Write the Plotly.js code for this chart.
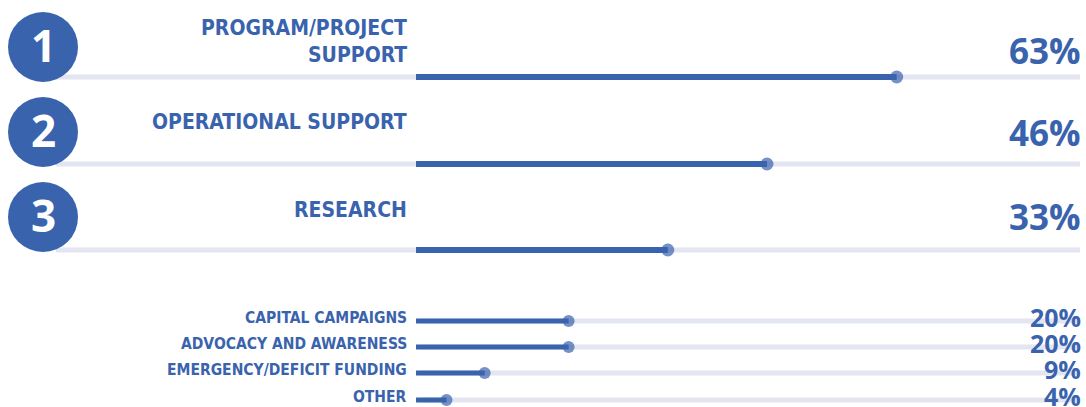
<!DOCTYPE html>
<html>
<head>
<meta charset="utf-8">
<script src="https://cdn.plot.ly/plotly-3.0.1.min.js"></script>
<style>html,body{margin:0;padding:0;background:#fff;}#chart{width:1086px;height:407px;}</style>
</head>
<body>
<div id="chart"></div>
<script>
// ---- data ----
const topCategories = ["PROGRAM/PROJECT<br>SUPPORT", "OPERATIONAL SUPPORT", "RESEARCH"];
const topValues = [63, 46, 33];
const topRanks = ["1", "2", "3"];
const otherCategories = ["CAPITAL CAMPAIGNS", "ADVOCACY AND AWARENESS", "EMERGENCY/DEFICIT FUNDING", "OTHER"];
const otherValues = [20, 20, 9, 4];

// ---- layout constants ----
const W = 1086, H = 407;
const BLUE = "#3a63ad", TRACK = "#e3e5f2";
const LABEL_FONT = "'Liberation Sans Narrow', 'DejaVu Sans Condensed', 'Arial Narrow', sans-serif";
const NUM_FONT = "'Open Sans', 'Noto Sans', sans-serif";
const topRowY = [77, 164, 250];
const topLabelY = [41, 122, 210];
const topPctY = [50, 132, 216];
const circleY = [47, 132, 217];
const otherRowY = [321, 347, 373, 400];
const px = p => p / W;

const traces = [];
const shapes = [];
const annotations = [];

topCategories.forEach((cat, i) => {
  const y = topRowY[i];
  shapes.push({type: "line", xref: "paper", yref: "y", x0: px(56), x1: px(1080), y0: y, y1: y,
    line: {color: TRACK, width: 5}, layer: "below"});
  shapes.push({type: "circle", xref: "paper", yref: "y", x0: px(8), x1: px(78), y0: circleY[i] - 35, y1: circleY[i] + 35,
    fillcolor: BLUE, line: {width: 0}, layer: "below"});
  traces.push({type: "scatter", mode: "lines+markers", x: [0, topValues[i]], y: [y, y],
    line: {color: BLUE, width: 6}, marker: {color: BLUE, size: [0, 13], line: {width: 0}},
    hoverinfo: "skip", showlegend: false, cliponaxis: false});
  annotations.push({xref: "paper", yref: "y", x: px(43), y: circleY[i] - 2, text: "<b>" + topRanks[i] + "</b>",
    showarrow: false, xanchor: "center", yanchor: "middle", font: {family: NUM_FONT, size: 44, color: "#ffffff"}});
  const lines = cat.split("<br>");
  lines.forEach((ln, k) => {
    const ly = topLabelY[i] + (k - (lines.length - 1) / 2) * 27;
    annotations.push({xref: "paper", yref: "y", x: px(409), y: ly, text: "<b>" + ln + "</b>",
      showarrow: false, xanchor: "right", yanchor: "middle", font: {family: LABEL_FONT, size: 21, color: BLUE}});
  });
  annotations.push({xref: "paper", yref: "y", x: px(1083), y: topPctY[i], text: "<b>" + topValues[i] + "%</b>",
    showarrow: false, xanchor: "right", yanchor: "middle", font: {family: NUM_FONT, size: 35, color: BLUE}});
});

otherCategories.forEach((cat, i) => {
  const y = otherRowY[i];
  shapes.push({type: "line", xref: "paper", yref: "y", x0: px(420), x1: px(1080), y0: y, y1: y,
    line: {color: TRACK, width: 5}, layer: "below"});
  traces.push({type: "scatter", mode: "lines+markers", x: [0, otherValues[i]], y: [y, y],
    line: {color: BLUE, width: 5}, marker: {color: BLUE, size: [0, 12], line: {width: 0}},
    hoverinfo: "skip", showlegend: false, cliponaxis: false});
  annotations.push({xref: "paper", yref: "y", x: px(409), y: y - 3, text: "<b>" + cat + "</b>",
    showarrow: false, xanchor: "right", yanchor: "middle", font: {family: LABEL_FONT, size: 15.5, color: BLUE}});
  annotations.push({xref: "paper", yref: "y", x: px(1083), y: y - 4, text: "<b>" + otherValues[i] + "%</b>",
    showarrow: false, xanchor: "right", yanchor: "middle", font: {family: NUM_FONT, size: 25, color: BLUE}});
});

const layout = {
  width: W, height: H,
  margin: {l: 0, r: 0, t: 0, b: 0, pad: 0},
  paper_bgcolor: "#ffffff", plot_bgcolor: "#ffffff",
  xaxis: {range: [-416 / 7.63, (W - 416) / 7.63], visible: false, fixedrange: true},
  yaxis: {range: [H, 0], visible: false, fixedrange: true},
  shapes: shapes,
  annotations: annotations,
  showlegend: false
};

Plotly.newPlot("chart", traces, layout, {displayModeBar: false, staticPlot: true});
</script>
</body>
</html>
